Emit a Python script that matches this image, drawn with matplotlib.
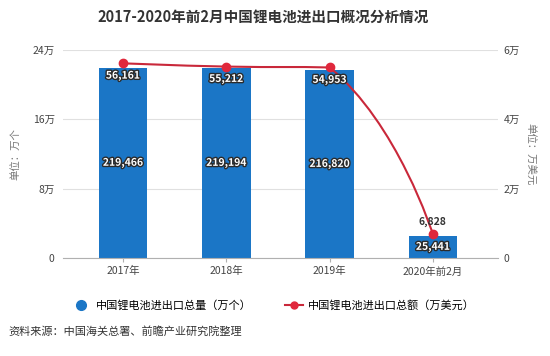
import numpy as np
import matplotlib
matplotlib.use('Agg')
import matplotlib.pyplot as plt
import matplotlib.patheffects as pe
from matplotlib.path import Path
from matplotlib.patches import PathPatch
from matplotlib.lines import Line2D

plt.rcParams['font.family'] = ['Noto Sans CJK SC', 'DejaVu Sans']

# data
years = ['2017年', '2018年', '2019年', '2020年前2月']
volume = [219466, 219194, 216820, 25441]      # 万个
amount = [56161, 55212, 54953, 6828]          # 万美元
left_ticks = [0, 80000, 160000, 240000]
left_labels = ['0', '8万', '16万', '24万']
right_ticks = [0, 20000, 40000, 60000]
right_labels = ['0', '2万', '4万', '6万']

bar_color = '#1b76c6'
line_color = '#c9283a'
marker_color = '#e0283c'

fig = plt.figure(figsize=(5.5, 3.56), dpi=100)
ax = fig.add_axes([0.1145, 0.2753, 0.791, 0.5843])
ax2 = ax.twinx()

x = np.arange(len(years))
xmin, xmax = -0.58, 3.63

# bars
ax.bar(x, volume, width=0.47, color=bar_color, zorder=2)
ax.set_xlim(xmin, xmax)
ax.set_ylim(0, 240000)
ax.set_yticks(left_ticks)
ax.set_yticklabels(left_labels)
ax.grid(axis='y', color='#e0e0e0', linewidth=0.8, zorder=0)
ax.set_axisbelow(True)
for s in ['top', 'right', 'left']:
    ax.spines[s].set_visible(False)
ax.spines['bottom'].set_color('#b0b0b0')
ax.set_xticks(x)
ax.set_xticklabels(years)
ax.tick_params(axis='x', length=3, color='#b0b0b0', labelsize=7.5, labelcolor='#444444', pad=3)
ax.tick_params(axis='y', length=0, labelsize=7.5, labelcolor='#444444', pad=6)
ax.set_ylabel('单位：万个', fontsize=7.5, color='#777777', labelpad=9)

outline = [pe.withStroke(linewidth=2, foreground='#2b2b2b')]
for xi, v in zip(x, volume):
    ax.text(xi, v / 2, f'{v:,}', ha='center', va='center', fontsize=7.5,
            fontweight='bold', color='white', path_effects=outline, zorder=5)

# smoothed line (bezier through the data points, control points clamped)
ax2.set_xlim(xmin, xmax)
ax2.set_ylim(0, 60000)
asp = 0.5843 * 3.56 / (0.791 * 5.5)
pts = np.array([[(xi - xmin) / (xmax - xmin), a / 60000 * asp] for xi, a in zip(x, amount)])
smooth = 0.5
cps = []
n = len(pts)
for i in range(n):
    p = pts[i]
    if i == 0 or i == n - 1:
        cps.append((p.copy(), p.copy()))
        continue
    v = (pts[i + 1] - pts[i - 1]) * smooth
    d0 = np.linalg.norm(p - pts[i - 1])
    d1 = np.linalg.norm(p - pts[i + 1])
    tot = d0 + d1
    c0 = p - v * d0 / tot
    c1 = p + v * d1 / tot
    c0[1] = np.clip(c0[1], min(p[1], pts[i - 1][1]), max(p[1], pts[i - 1][1]))
    c1[1] = np.clip(c1[1], min(p[1], pts[i + 1][1]), max(p[1], pts[i + 1][1]))
    cps.append((c0, c1))


def to_data(q):
    return (q[0] * (xmax - xmin) + xmin, q[1] / asp * 60000)


verts = [to_data(pts[0])]
codes = [Path.MOVETO]
for i in range(n - 1):
    verts += [to_data(cps[i][1]), to_data(cps[i + 1][0]), to_data(pts[i + 1])]
    codes += [Path.CURVE4] * 3
ax2.add_patch(PathPatch(Path(verts, codes), facecolor='none', edgecolor=line_color,
                        linewidth=1.5, zorder=3))
ax2.plot(x, amount, linestyle='none', marker='o', markersize=6,
         color=marker_color, zorder=4)

for i, (xi, a) in enumerate(zip(x, amount)):
    if i < n - 1:
        ax2.text(xi, a - 3600, f'{a:,}', ha='center', va='center', fontsize=7.5,
                 fontweight='bold', color='white', path_effects=outline, zorder=5)
    else:
        ax2.text(xi, a + 3600, f'{a:,}', ha='center', va='center', fontsize=7.5,
                 fontweight='bold', color='#333333', zorder=5)

ax2.set_yticks(right_ticks)
ax2.set_yticklabels(right_labels)
for s in ['top', 'right', 'left', 'bottom']:
    ax2.spines[s].set_visible(False)
ax2.tick_params(axis='y', length=0, labelsize=7.5, labelcolor='#444444', pad=4)
ax2.set_ylabel('单位：万美元', fontsize=7.5, color='#777777', rotation=270, labelpad=11)

fig.text(0.478, 0.952, '2017-2020年前2月中国锂电池进出口概况分析情况', ha='center', va='center',
         fontsize=10.5, fontweight='bold', color='#333333')

handles = [
    Line2D([], [], linestyle='none', marker='o', markersize=7, color=bar_color),
    Line2D([], [], color=line_color, linewidth=1.5, marker='o', markersize=5,
           markerfacecolor=marker_color, markeredgecolor=marker_color),
]
fig.legend(handles, ['中国锂电池进出口总量（万个）', '中国锂电池进出口总额（万美元）'],
           loc='center', bbox_to_anchor=(0.498, 0.143), ncol=2, frameon=False,
           fontsize=8, handlelength=1.6, columnspacing=3.0, handletextpad=0.5)

fig.text(0.015, 0.07, '资料来源：中国海关总署、前瞻产业研究院整理', ha='left', va='center',
         fontsize=8, color='#333333')

fig.savefig('out.png', dpi=100)
